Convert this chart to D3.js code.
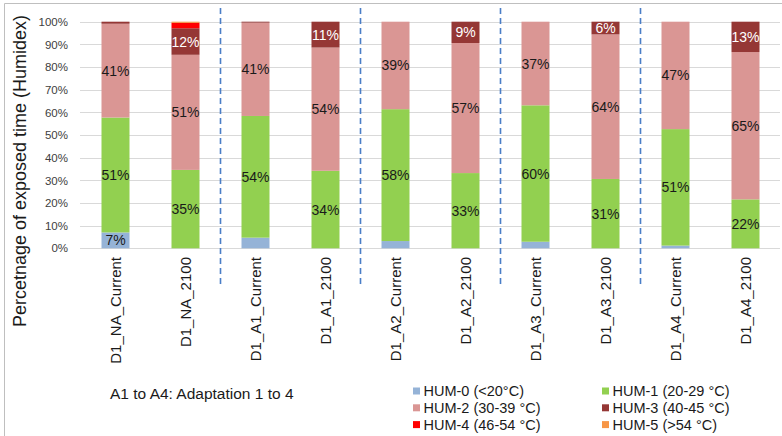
<!DOCTYPE html>
<html>
<head>
<meta charset="utf-8">
<script src="https://cdn.jsdelivr.net/npm/d3@7"></script>
<style>
  html, body { margin: 0; padding: 0; background: #fff; }
  svg { display: block; font-family: "Liberation Sans", Arial, sans-serif; }
</style>
</head>
<body>
<svg id="chart" width="782" height="436"></svg>
<script>
const categories = ["D1_NA_Current","D1_NA_2100","D1_A1_Current","D1_A1_2100","D1_A2_Current","D1_A2_2100","D1_A3_Current","D1_A3_2100","D1_A4_Current","D1_A4_2100"];
const seriesKeys = ["HUM-0","HUM-1","HUM-2","HUM-3","HUM-4","HUM-5"];
const legendLabels = ["HUM-0 (<20°C)","HUM-1 (20-29 °C)","HUM-2 (30-39 °C)","HUM-3 (40-45 °C)","HUM-4 (46-54 °C)","HUM-5 (>54 °C)"];
const seriesColors = ["#95B3D7","#92D050","#DA9694","#953735","#FF0000","#F79646"];
const hum0 = [7.0, 0, 4.7, 0, 3.2, 0, 2.9, 0, 1.2, 0];
const hum1 = [50.7, 34.6, 53.7, 34.2, 58.2, 33.2, 60.2, 30.6, 51.4, 21.6];
const hum2 = [41.4, 50.8, 41.2, 54.4, 38.6, 57.4, 36.9, 63.8, 47.4, 65.0];
const hum3 = [0.9, 11.7, 0.4, 11.4, 0, 9.4, 0, 5.6, 0, 13.4];
const hum4 = [0, 2.4, 0, 0, 0, 0, 0, 0, 0, 0];
const hum5 = [0, 0.5, 0, 0, 0, 0, 0, 0, 0, 0];
const yTicks = [0,10,20,30,40,50,60,70,80,90,100];
const yTitle = "Percetnage of exposed time (Humidex)";
const noteText = "A1 to A4: Adaptation 1 to 4";
const labelThreshold = 5;

const seriesValues = [hum0, hum1, hum2, hum3, hum4, hum5];
const rows = categories.map((c, i) => {
  const r = { cat: c };
  seriesKeys.forEach((k, j) => r[k] = seriesValues[j][i]);
  return r;
});

const svg = d3.select("#chart");

// outer frame (left + top edges)
svg.append("path").attr("d", "M4.5,436 V3.5 H782").attr("fill", "none")
  .attr("stroke", "#BFBFBF").attr("stroke-width", 1);

const x = d3.scaleBand().domain(categories).range([80.5, 780.5]).paddingInner(0.6).paddingOuter(0.3);
const y = d3.scaleLinear().domain([0, 100]).range([248.3, 21.7]);

// gridlines
svg.append("g").selectAll("line").data(yTicks).join("line")
  .attr("x1", 80).attr("x2", 780)
  .attr("y1", d => Math.round(y(d)) + 0.5).attr("y2", d => Math.round(y(d)) + 0.5)
  .attr("stroke", "#D9D9D9").attr("stroke-width", 1);

// y axis labels
const yAxis = d3.axisLeft(y).tickValues(yTicks).tickFormat(d => d + "%").tickSize(0).tickPadding(0);
const gy = svg.append("g").attr("transform", "translate(68,0)").call(yAxis);
gy.select(".domain").remove();
gy.selectAll("text").attr("font-size", "11.5px").attr("fill", "#404040")
  .attr("font-family", "'Liberation Sans', Arial, sans-serif");

// stacked bars
const stack = d3.stack().keys(seriesKeys);
const stacked = stack(rows);
const layers = svg.append("g").selectAll("g").data(stacked).join("g")
  .attr("fill", (d, i) => seriesColors[i]);
layers.selectAll("rect").data(d => d.map(p => ({ p, key: d.key }))).join("rect")
  .attr("x", d => x(d.p.data.cat))
  .attr("width", x.bandwidth())
  .attr("y", d => y(d.p[1]))
  .attr("height", d => Math.max(0, y(d.p[0]) - y(d.p[1])));

// data labels
const lbl = svg.append("g");
stacked.forEach((layer, i) => {
  layer.forEach(p => {
    const v = p[1] - p[0];
    if (v < labelThreshold) return;
    lbl.append("text")
      .attr("x", x(p.data.cat) + x.bandwidth() / 2)
      .attr("y", (y(p[0]) + y(p[1])) / 2)
      .attr("dy", "0.36em")
      .attr("text-anchor", "middle")
      .attr("font-size", "14px")
      .attr("fill", layer.key === "HUM-3" ? "#FFFFFF" : "#1a1a1a")
      .text(Math.round(v) + "%");
  });
});

// category labels (rotated)
const xAxis = d3.axisBottom(x).tickSize(0).tickPadding(0);
const gx = svg.append("g").attr("transform", "translate(0,257)").call(xAxis);
gx.select(".domain").remove();
gx.selectAll("text")
  .attr("font-size", "15px").attr("fill", "#1a1a1a")
  .attr("font-family", "'Liberation Sans', Arial, sans-serif")
  .attr("transform", "rotate(-90)")
  .attr("text-anchor", "end")
  .attr("x", 0).attr("y", 0).attr("dy", "0.36em");

// dashed group separators
const sepIdx = [2, 4, 6, 8];
svg.append("g").selectAll("line").data(sepIdx).join("line")
  .attr("x1", i => x(categories[i]) - x.step() * x.paddingInner() / 2)
  .attr("x2", i => x(categories[i]) - x.step() * x.paddingInner() / 2)
  .attr("y1", 8).attr("y2", 286)
  .attr("stroke", "#4A7EC7").attr("stroke-width", 1.6)
  .attr("stroke-dasharray", "6,4");

// y title
svg.append("text")
  .attr("transform", "translate(20,171) rotate(-90)")
  .attr("dy", "0.36em")
  .attr("text-anchor", "middle")
  .attr("font-size", "18px").attr("fill", "#1a1a1a")
  .text(yTitle);

// note
svg.append("text").attr("x", 110).attr("y", 393).attr("dy", "0.36em")
  .attr("font-size", "15.5px").attr("fill", "#1a1a1a").text(noteText);

// legend
const legend = svg.append("g");
seriesKeys.forEach((k, i) => {
  const col = i % 2, row = Math.floor(i / 2);
  const lx = col === 0 ? 413 : 602;
  const ly = 391 + row * 16.8;
  legend.append("rect").attr("x", lx).attr("y", ly - 3.5).attr("width", 7).attr("height", 7)
    .attr("fill", seriesColors[i]);
  legend.append("text").attr("x", lx + 10.5).attr("y", ly).attr("dy", "0.36em")
    .attr("font-size", "14.5px").attr("fill", "#1a1a1a").text(legendLabels[i]);
});
</script>
</body>
</html>
